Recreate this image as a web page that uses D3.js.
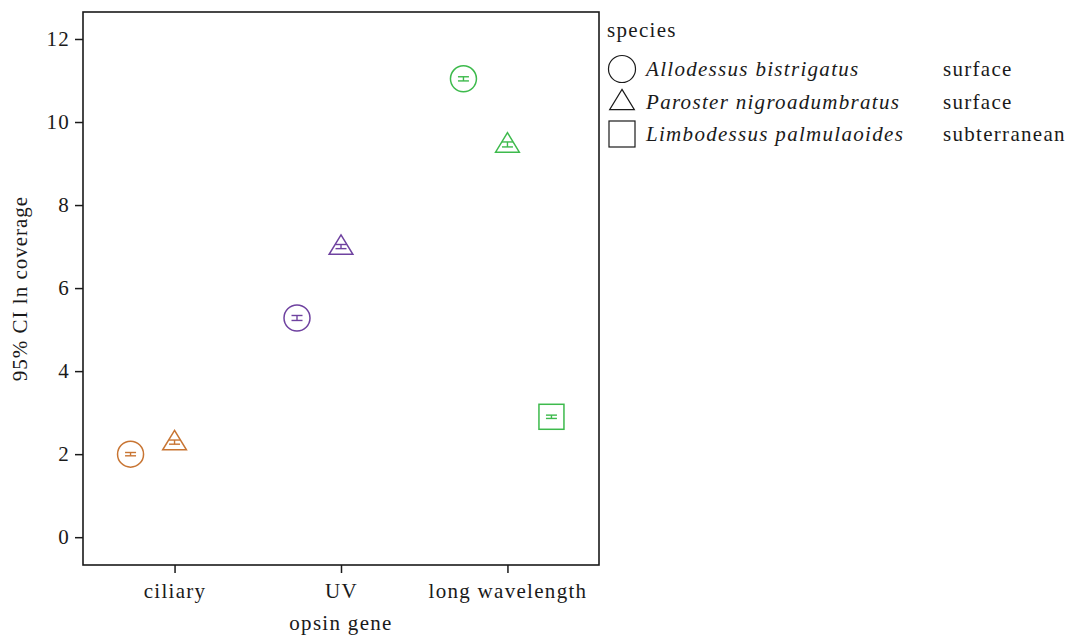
<!DOCTYPE html>
<html><head><meta charset="utf-8">
<script src="https://cdn.jsdelivr.net/npm/d3@7"></script>
<style>body{margin:0;background:#fff}svg{display:block}text{font-family:"Liberation Serif","DejaVu Serif",serif;fill:#1a1a1a;letter-spacing:1.3px}</style>
</head><body>
<script>
const genes = ["ciliary", "UV", "long wavelength"];
const species = ["Allodessus bistrigatus", "Paroster nigroadumbratus", "Limbodessus palmulaoides"];
const habitat = ["surface", "surface", "subterranean"];
const shapes = ["circle", "triangle", "square"];
const geneColors = ["#c87533", "#6f42a0", "#3dba4c"];
// points: gene, species, mean, lower, upper
const ptGene =    ["ciliary", "ciliary", "UV", "UV", "long wavelength", "long wavelength", "long wavelength"];
const ptSpecies = ["Allodessus bistrigatus", "Paroster nigroadumbratus", "Allodessus bistrigatus", "Paroster nigroadumbratus", "Allodessus bistrigatus", "Paroster nigroadumbratus", "Limbodessus palmulaoides"];
const ptMean =    [2.00, 2.29, 5.28, 7.00, 11.04, 9.46, 2.90];
const ptLower =   [1.96, 2.24, 5.22, 6.95, 10.99, 9.40, 2.86];
const ptUpper =   [2.04, 2.34, 5.34, 7.05, 11.09, 9.52, 2.94];
const yTicks = [0, 2, 4, 6, 8, 10, 12];

const W = 1067, H = 637;
const m = {l: 83, r: 599, t: 12, b: 565};
const FS = 21;
const svg = d3.select("body").append("svg").attr("width", W).attr("height", H);

const x = d3.scalePoint().domain(genes).range([m.l, m.r]).padding(0.55);
const dodge = d3.scalePoint().domain(species).range([-44, 44]);
const y = d3.scaleLinear().domain([-0.67, 12.65]).range([m.b, m.t]);
const col = d3.scaleOrdinal().domain(genes).range(geneColors);
const shp = d3.scaleOrdinal().domain(species).range(shapes);

function drawShape(g, s, size) {
  if (s === "circle") g.append("circle").attr("r", size * 0.52);
  else if (s === "triangle") {
    const w = size * 0.95, h = size * 0.78;
    g.append("path").attr("d", `M0,${-h/2 - 2}L${w/2},${h/2 - 2}L${-w/2},${h/2 - 2}Z`);
  } else g.append("rect").attr("x", -size/2).attr("y", -size/2).attr("width", size).attr("height", size);
}

// axes
const yAxis = svg.append("g").attr("transform", `translate(${m.l},0)`)
  .call(d3.axisLeft(y).tickValues(yTicks).tickSize(8).tickPadding(5));
const xAxis = svg.append("g").attr("transform", `translate(0,${m.b})`)
  .call(d3.axisBottom(x).tickSize(8).tickPadding(10));
[yAxis, xAxis].forEach(a => {
  a.select(".domain").remove();
  a.selectAll("line").attr("stroke", "#1a1a1a").attr("stroke-width", 1.5);
  a.selectAll("text").attr("font-size", FS).attr("font-family", "Liberation Serif").attr("fill", "#1a1a1a");
});
svg.append("rect").attr("x", m.l).attr("y", m.t).attr("width", m.r - m.l).attr("height", m.b - m.t)
  .attr("fill", "none").attr("stroke", "#1a1a1a").attr("stroke-width", 1.6);

svg.append("text").attr("transform", `translate(27,${(m.t + m.b) / 2}) rotate(-90)`)
  .attr("text-anchor", "middle").attr("font-size", FS).style("letter-spacing", "1px").text("95% CI ln coverage");
svg.append("text").attr("x", x("UV")).attr("y", 630).attr("text-anchor", "middle")
  .attr("font-size", FS).text("opsin gene");

// points
ptMean.forEach((v, i) => {
  const cx = x(ptGene[i]) + dodge(ptSpecies[i]);
  const c = col(ptGene[i]);
  const g = svg.append("g").attr("transform", `translate(${cx},${y(v)})`)
    .attr("fill", "none").attr("stroke", c).attr("stroke-width", 1.5);
  drawShape(g, shp(ptSpecies[i]), 25);
  const eb = svg.append("g").attr("stroke", c).attr("stroke-width", 1.4);
  const yl = y(ptLower[i]), yu = y(ptUpper[i]);
  eb.append("line").attr("x1", cx - 5.5).attr("x2", cx + 5.5).attr("y1", yl).attr("y2", yl);
  eb.append("line").attr("x1", cx - 5.5).attr("x2", cx + 5.5).attr("y1", yu).attr("y2", yu);
  eb.append("line").attr("x1", cx).attr("x2", cx).attr("y1", yl).attr("y2", yu);
});

// legend
const lg = svg.append("g");
lg.append("text").attr("x", 607).attr("y", 37).attr("font-size", FS).text("species");
species.forEach((s, i) => {
  const ly = 69 + i * 32.5;
  const g = lg.append("g").attr("transform", `translate(622,${ly})`)
    .attr("fill", "none").attr("stroke", "#1a1a1a").attr("stroke-width", 1.2);
  drawShape(g, shapes[i], 26);
  lg.append("text").attr("x", 646).attr("y", ly + 7).attr("font-size", FS)
    .attr("font-style", "italic").text(s);
  lg.append("text").attr("x", 943).attr("y", ly + 7).attr("font-size", FS).text(habitat[i]);
});
</script>
</body></html>
